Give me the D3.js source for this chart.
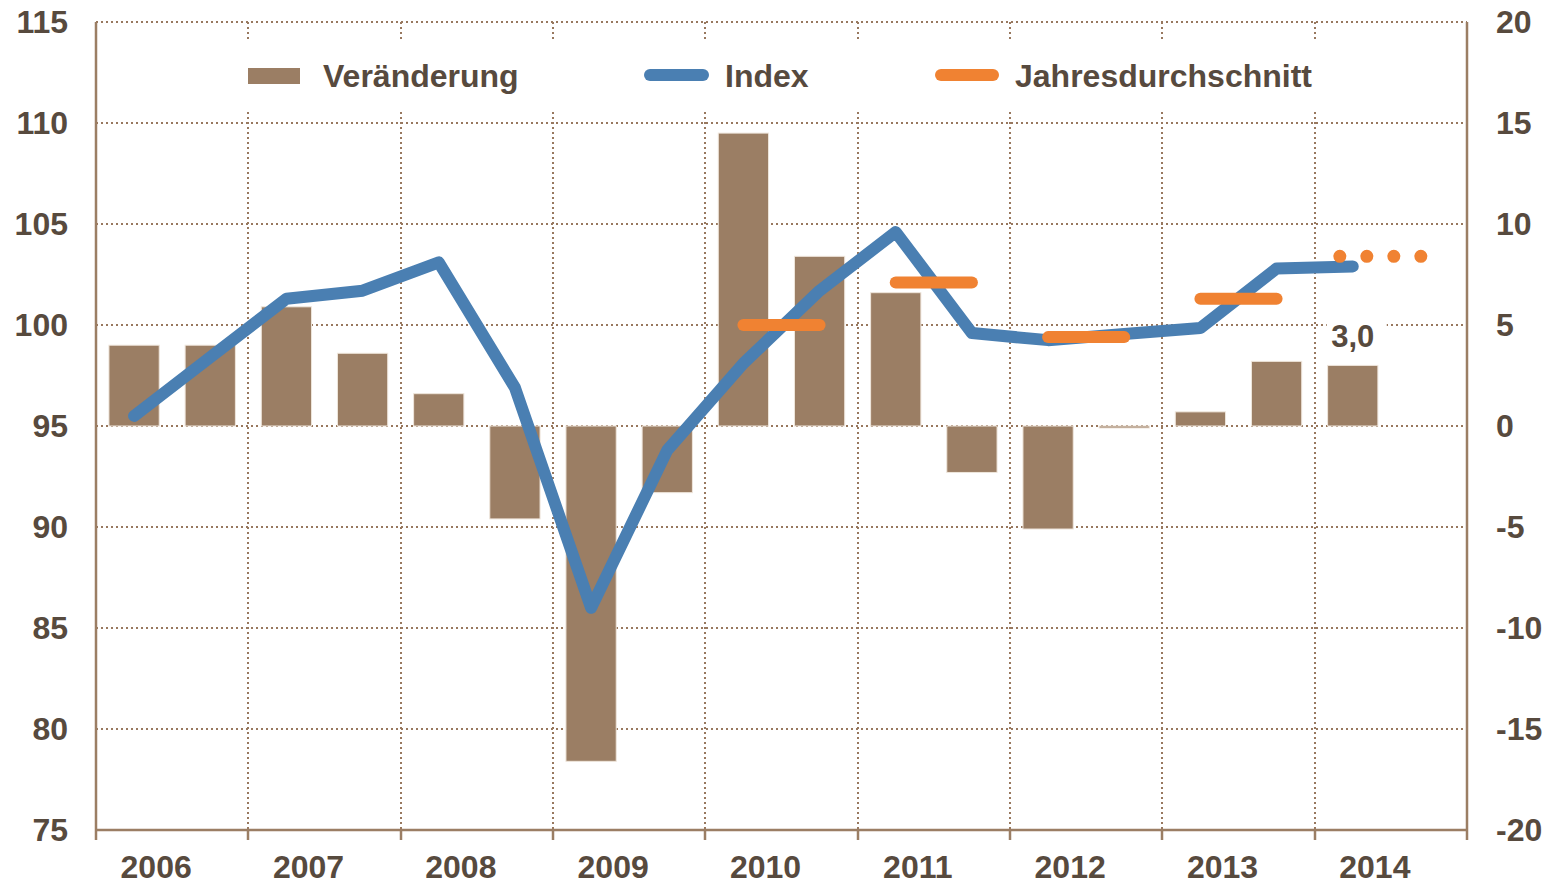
<!DOCTYPE html>
<html>
<head>
<meta charset="utf-8">
<script src="https://cdn.jsdelivr.net/npm/d3@7"></script>
<style>
	body { margin: 0; background: #ffffff; }
	text { font-family: "Liberation Sans", Arial, sans-serif; font-weight: bold; fill: #574a3e; }
</style>
</head>
<body>
<script>
// half years 2006 H1 .. 2014 H1
var halfYears = ["2006-1","2006-2","2007-1","2007-2","2008-1","2008-2","2009-1","2009-2",
	"2010-1","2010-2","2011-1","2011-2","2012-1","2012-2","2013-1","2013-2","2014-1","2014-2"];
var changes = [4.0, 4.0, 5.9, 3.6, 1.6, -4.6, -16.6, -3.3, 14.5, 8.4, 6.6, -2.3, -5.1, -0.1, 0.7, 3.2, 3.0];
var indexValues = [95.5, 98.4, 101.3, 101.7, 103.1, 96.9, 86.0, 93.8, 98.1, 101.7, 104.6, 99.6, 99.25, 99.55, 99.85, 102.8, 102.9];
var years = [2006, 2007, 2008, 2009, 2010, 2011, 2012, 2013, 2014];
var avgYears = [2010, 2011, 2012, 2013];
var avgValues = [100.0, 102.1, 99.4, 101.3];
var forecastYear = 2014, forecastValue = 103.4;
var leftTicks = [75, 80, 85, 90, 95, 100, 105, 110, 115];
var rightTicks = [-20, -15, -10, -5, 0, 5, 10, 15, 20];
var lastLabel = "3,0";

var width = 1553, height = 882;
var plotL = 96, plotR = 1467, plotT = 22, plotB = 830;
var brown = "#9b7e64", blue = "#4a7fb2", orange = "#f08232";
var fontSize = "32px";

var svg = d3.select("body").append("svg").attr("width", width).attr("height", height);

var x = d3.scaleBand().domain(halfYears).range([plotL, plotR]).paddingInner(0.34).paddingOuter(0.17);
var xYear = d3.scaleLinear().domain([2006, 2015]).range([plotL, plotR]);
var yL = d3.scaleLinear().domain([75, 115]).range([plotB, plotT]);
var yR = d3.scaleLinear().domain([-20, 20]).range([plotB, plotT]);
function cx(i) { return x(halfYears[i]) + x.bandwidth() / 2; }

// grid
var grid = svg.append("g").attr("stroke", "#98785e").attr("stroke-width", 2).attr("stroke-dasharray", "2,3");
grid.selectAll("line.h").data(leftTicks.slice(1)).enter().append("line")
	.attr("x1", plotL).attr("x2", plotR)
	.attr("y1", function(d) { return yL(d); }).attr("y2", function(d) { return yL(d); });
grid.selectAll("line.v").data(years.slice(1)).enter().append("line")
	.attr("x1", function(d) { return Math.round(xYear(d)); }).attr("x2", function(d) { return Math.round(xYear(d)); })
	.attr("y1", plotT).attr("y2", plotB);

// bars
svg.append("g").selectAll("rect").data(changes).enter().append("rect")
	.attr("x", function(d, i) { return x(halfYears[i]); })
	.attr("width", x.bandwidth())
	.attr("y", function(d) { return yR(Math.max(0, d)); })
	.attr("height", function(d) { return Math.max(1.5, Math.abs(yR(d) - yR(0))); })
	.attr("fill", brown).attr("stroke", "#efe6dc").attr("stroke-width", 1);

// legend
var legend = svg.append("g");
legend.append("rect").attr("x", 225).attr("y", 41).attr("width", 1110).attr("height", 69).attr("fill", "#ffffff");
legend.append("rect").attr("x", 248).attr("y", 68).attr("width", 52).attr("height", 16).attr("fill", brown);
legend.append("text").attr("x", 323).attr("y", 87).style("font-size", fontSize).text("Veränderung");
legend.append("line").attr("x1", 650).attr("x2", 703).attr("y1", 75).attr("y2", 75)
	.attr("stroke", blue).attr("stroke-width", 12).attr("stroke-linecap", "round");
legend.append("text").attr("x", 725).attr("y", 87).style("font-size", fontSize).text("Index");
legend.append("line").attr("x1", 941).attr("x2", 993).attr("y1", 75).attr("y2", 75)
	.attr("stroke", orange).attr("stroke-width", 12).attr("stroke-linecap", "round");
legend.append("text").attr("x", 1015).attr("y", 87).style("font-size", fontSize).text("Jahresdurchschnitt");

// axis lines
var ax = svg.append("g").attr("stroke", brown).attr("stroke-width", 2.5);
ax.append("line").attr("x1", plotL).attr("x2", plotL).attr("y1", plotT).attr("y2", plotB + 10);
ax.append("line").attr("x1", plotR).attr("x2", plotR).attr("y1", plotT).attr("y2", plotB + 10);
ax.append("line").attr("x1", plotL).attr("x2", plotR).attr("y1", plotB).attr("y2", plotB);
ax.selectAll("line.t").data(years.slice(1)).enter().append("line")
	.attr("x1", function(d) { return Math.round(xYear(d)); }).attr("x2", function(d) { return Math.round(xYear(d)); })
	.attr("y1", plotB).attr("y2", plotB + 10);

// axis labels (plain hyphen for negatives)
function fmt(d) { return String(d); }
var yAxisL = d3.axisLeft(yL).tickValues(leftTicks).tickFormat(fmt).tickSize(0).tickPadding(28);
svg.append("g").attr("transform", "translate(" + plotL + ",0)").call(yAxisL)
	.call(function(g) { g.select(".domain").remove(); })
	.selectAll("text").attr("fill", null).style("font-size", fontSize).style("font-family", null);
var yAxisR = d3.axisRight(yR).tickValues(rightTicks).tickFormat(fmt).tickSize(0).tickPadding(29);
svg.append("g").attr("transform", "translate(" + plotR + ",0)").call(yAxisR)
	.call(function(g) { g.select(".domain").remove(); })
	.selectAll("text").attr("fill", null).style("font-size", fontSize).style("font-family", null);
svg.append("g").selectAll("text").data(years).enter().append("text")
	.attr("x", function(d) { return xYear(d + 0.5) - 16; })
	.attr("y", 878).attr("text-anchor", "middle").style("font-size", fontSize)
	.text(function(d) { return d; });

// index line
var line = d3.line().x(function(d, i) { return cx(i); }).y(function(d) { return yL(d); });
svg.append("path").datum(indexValues).attr("d", line)
	.attr("fill", "none").attr("stroke", blue).attr("stroke-width", 12)
	.attr("stroke-linecap", "round").attr("stroke-linejoin", "round");

// annual averages
svg.append("g").selectAll("line").data(avgValues).enter().append("line")
	.attr("x1", function(d, i) { return cx(halfYears.indexOf(avgYears[i] + "-1")); })
	.attr("x2", function(d, i) { return cx(halfYears.indexOf(avgYears[i] + "-2")); })
	.attr("y1", function(d) { return yL(d); }).attr("y2", function(d) { return yL(d); })
	.attr("stroke", orange).attr("stroke-width", 12).attr("stroke-linecap", "round");
svg.append("line")
	.attr("x1", xYear(forecastYear + 0.5) - 51).attr("x2", xYear(forecastYear + 0.5) + 32)
	.attr("y1", yL(forecastValue)).attr("y2", yL(forecastValue))
	.attr("stroke", orange).attr("stroke-width", 13).attr("stroke-linecap", "round")
	.attr("stroke-dasharray", "0,27");

// label of the last bar
var li = changes.length - 1;
svg.append("rect").attr("x", cx(li) - 26).attr("y", 318).attr("width", 60).attr("height", 36).attr("fill", "#ffffff");
svg.append("text").attr("x", cx(li)).attr("y", yR(changes[li]) - 18)
	.attr("text-anchor", "middle").style("font-size", "31px").text(lastLabel);
</script>
</body>
</html>
